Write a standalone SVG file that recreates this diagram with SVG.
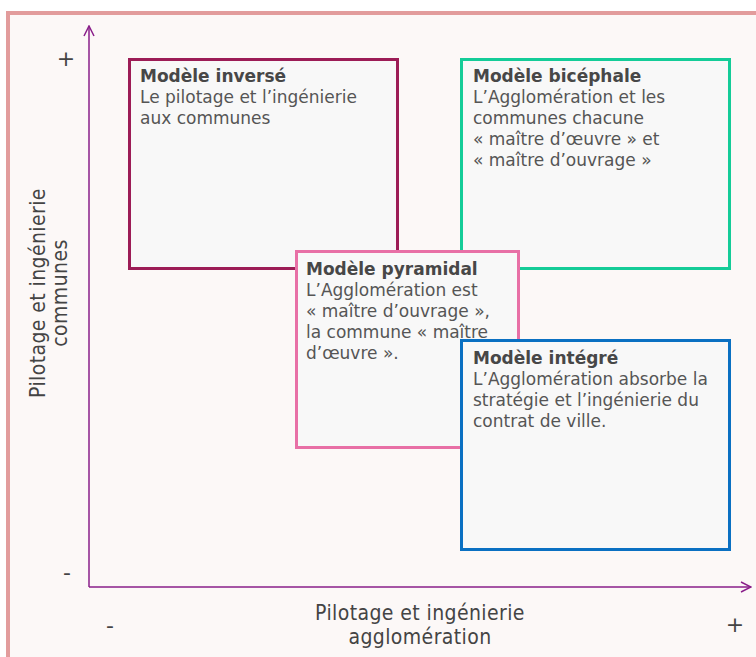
<svg xmlns="http://www.w3.org/2000/svg" width="756" height="657" viewBox="0 0 756 657">
<defs>
<marker id="arr" viewBox="0 0 12 12" refX="11" refY="6" markerWidth="12" markerHeight="12" markerUnits="userSpaceOnUse" orient="auto">
<path d="M1,1 L11,6 L1,11" fill="none" stroke="#8a1f8a" stroke-width="1.5"/>
</marker>
</defs>
<style>
.box{fill:#f8f8f8;stroke-width:3}
.t{font-family:"DejaVu Sans",Verdana,sans-serif;font-size:17px;fill:#555}
.b{font-weight:bold;fill:#474747}
.ax{font-family:"DejaVu Sans Condensed","DejaVu Sans",sans-serif;font-stretch:condensed;font-size:21px;letter-spacing:0.4px;fill:#444;text-anchor:middle}
.pm{font-family:"DejaVu Sans",sans-serif;font-size:22px;fill:#444;text-anchor:middle}
.axis{stroke:#8a1f8a;stroke-width:1.5;fill:none}
</style>
<rect x="0" y="0" width="756" height="657" fill="#ffffff"/>
<rect x="8" y="13" width="760" height="660" fill="#fcf8f7" stroke="#e29c9c" stroke-width="4"/>
<g id="connectors">
<line class="axis" x1="89" y1="587" x2="89" y2="26" marker-end="url(#arr)"/>
<line class="axis" x1="89" y1="587" x2="751" y2="587" marker-end="url(#arr)"/>
</g>
<g id="labels">
<text class="pm" x="66" y="66">+</text>
<text class="pm" x="67" y="580">-</text>
<text class="pm" x="110" y="633">-</text>
<text class="pm" x="735" y="632">+</text>
<text class="ax" x="420" y="620">Pilotage et ingénierie</text>
<text class="ax" x="420" y="644">agglomération</text>
<text class="ax" transform="translate(45,293) rotate(-90)"><tspan x="0" y="0">Pilotage et ingénierie</tspan><tspan x="0" y="22">communes</tspan></text>
</g>
<g id="inverse">
<rect class="box" x="129.5" y="59.5" width="268" height="209" stroke="#9c1c56"/>
<text class="t"><tspan class="b" x="140" y="82">Modèle inversé</tspan><tspan x="140" y="103">Le pilotage et l’ingénierie</tspan><tspan x="140" y="124">aux communes</tspan></text>
</g>
<g id="bicephale">
<rect class="box" x="461.5" y="59.5" width="268" height="209" stroke="#14cc98"/>
<text class="t"><tspan class="b" x="473" y="82">Modèle bicéphale</tspan><tspan x="473" y="103">L’Agglomération et les</tspan><tspan x="473" y="124">communes chacune</tspan><tspan x="473" y="145">« maître d’œuvre » et</tspan><tspan x="473" y="166">« maître d’ouvrage »</tspan></text>
</g>
<g id="pyramidal">
<rect class="box" x="296.5" y="251.5" width="222" height="196" stroke="#e870a6"/>
<text class="t"><tspan class="b" x="306" y="275">Modèle pyramidal</tspan><tspan x="306" y="296">L’Agglomération est</tspan><tspan x="306" y="317">« maître d’ouvrage »,</tspan><tspan x="306" y="338">la commune « maître</tspan><tspan x="306" y="359">d’œuvre ».</tspan></text>
</g>
<g id="integre">
<rect class="box" x="461.5" y="340.5" width="268" height="209" stroke="#0a70c2"/>
<text class="t"><tspan class="b" x="473" y="364">Modèle intégré</tspan><tspan x="473" y="385">L’Agglomération absorbe la</tspan><tspan x="473" y="406">stratégie et l’ingénierie du</tspan><tspan x="473" y="427">contrat de ville.</tspan></text>
</g>
</svg>
